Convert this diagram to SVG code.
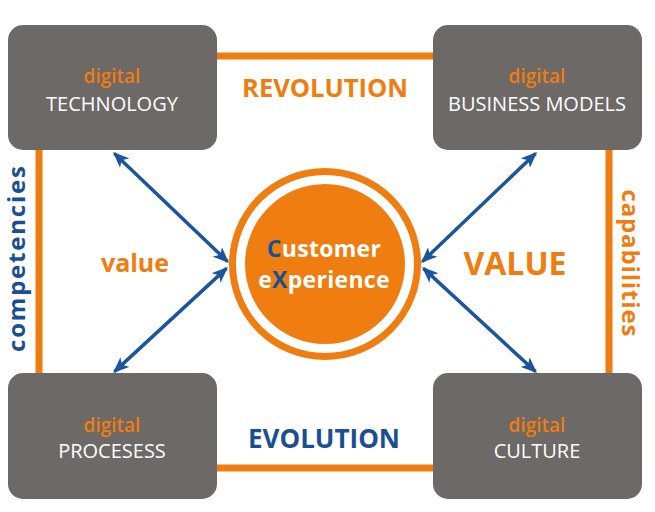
<svg xmlns="http://www.w3.org/2000/svg" width="655" height="512" viewBox="0 0 655 512">
<style>
.box{fill:#6d6967}
.dg{font-family:"Open Sans","Liberation Sans",sans-serif;font-weight:600;font-size:19px;fill:#ef7d0f;text-anchor:middle}
.nm{font-family:"Open Sans","Liberation Sans",sans-serif;font-weight:500;font-size:20px;fill:#ffffff;text-anchor:middle}
.lbl{font-family:"Open Sans","Liberation Sans",sans-serif;font-weight:700;text-anchor:middle}
.or{fill:#ef7d0f}
.bl{fill:#1a4f94}
.frame{stroke:#ef7d0f;stroke-width:7;fill:none}
.arr{stroke:#1a559e;stroke-width:3.5;fill:none;marker-start:url(#ah);marker-end:url(#ah)}
</style>
<defs>
<marker id="ah" markerUnits="userSpaceOnUse" markerWidth="18" markerHeight="14" refX="14" refY="6.5" orient="auto-start-reverse" viewBox="0 0 18 13">
<path d="M0,0 L16,6.5 L0,13 L4,6.5 z" fill="#1a559e"/>
</marker>
</defs>
<rect width="655" height="512" fill="#ffffff"/>
<g id="frame-lines">
<line class="frame" x1="210" y1="56" x2="440" y2="56"/>
<line class="frame" x1="210" y1="468" x2="440" y2="468"/>
<line class="frame" x1="39" y1="145" x2="39" y2="378"/>
<line class="frame" x1="609" y1="145" x2="609" y2="378"/>
</g>
<g id="connectors">
<line class="arr" x1="114.4" y1="153.4" x2="227.6" y2="261.6"/>
<line class="arr" x1="535.6" y1="153.4" x2="422.4" y2="261.6"/>
<line class="arr" x1="114.5" y1="371.6" x2="226.5" y2="268.4"/>
<line class="arr" x1="535.5" y1="371.6" x2="423.5" y2="268.4"/>
</g>
<g id="node-technology">
<rect class="box" x="8" y="25" width="209" height="125" rx="15"/>
<text class="dg" x="112" y="83">digital</text>
<text class="nm" x="112" y="111">TECHNOLOGY</text>
</g>
<g id="node-business-models">
<rect class="box" x="433" y="25" width="209" height="125" rx="15"/>
<text class="dg" x="537" y="83">digital</text>
<text class="nm" x="537" y="111">BUSINESS MODELS</text>
</g>
<g id="node-processes">
<rect class="box" x="8" y="373" width="209" height="126" rx="15"/>
<text class="dg" x="112" y="432">digital</text>
<text class="nm" x="112" y="458">PROCESESS</text>
</g>
<g id="node-culture">
<rect class="box" x="433" y="373" width="209" height="126" rx="15"/>
<text class="dg" x="537" y="432">digital</text>
<text class="nm" x="537" y="458">CULTURE</text>
</g>
<g id="node-customer-experience">
<circle cx="325" cy="264" r="92.5" fill="none" stroke="#ef7d0f" stroke-width="7"/>
<circle cx="325" cy="264" r="80" fill="#ef7d0f"/>
<text class="lbl" x="324" y="257" font-size="23" fill="#ffffff" letter-spacing="0.3"><tspan fill="#1a4f94">C</tspan>ustomer</text>
<text class="lbl" x="324" y="288" font-size="23" fill="#ffffff" letter-spacing="0.3">e<tspan fill="#1a4f94">X</tspan>perience</text>
</g>
<g id="labels">
<text class="lbl or" x="325" y="97" font-size="25.5">REVOLUTION</text>
<text class="lbl bl" x="324" y="448" font-size="26">EVOLUTION</text>
<text class="lbl or" x="135" y="272" font-size="25">value</text>
<text class="lbl or" x="515" y="275" font-size="32">VALUE</text>
<text class="lbl bl" x="0" y="0" font-size="24" textLength="186" lengthAdjust="spacing" transform="translate(25,259) rotate(-90)">competencies</text>
<text class="lbl or" x="0" y="0" font-size="24" textLength="147" lengthAdjust="spacing" transform="translate(622,263) rotate(90)">capabilities</text>
</g>
</svg>
